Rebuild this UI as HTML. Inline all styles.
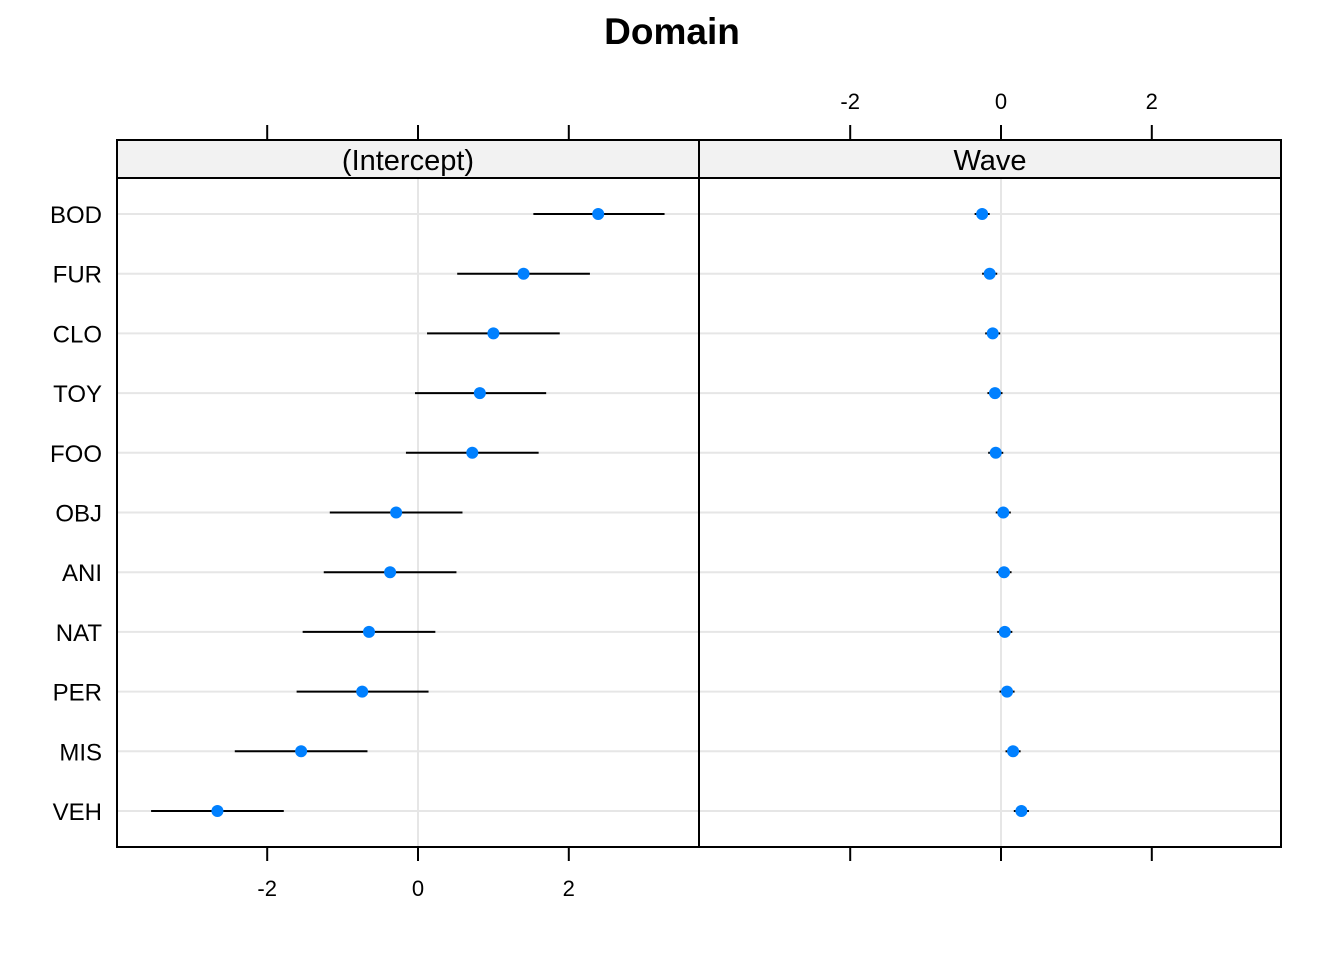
<!DOCTYPE html>
<html><head><meta charset="utf-8"><style>
body{margin:0;background:#fff}
svg{font-family:"Liberation Sans",Arial,sans-serif}
</style></head><body>
<svg id="c" width="1344" height="960" xmlns="http://www.w3.org/2000/svg">
<text x="672" y="44" text-anchor="middle" font-size="37" font-weight="bold">Domain</text>
</svg>
<script>
const categories=["BOD","FUR","CLO","TOY","FOO","OBJ","ANI","NAT","PER","MIS","VEH"];
const interceptEst=[2.39,1.40,1.00,0.82,0.72,-0.29,-0.37,-0.65,-0.74,-1.55,-2.66];
const interceptLo=[1.53,0.52,0.12,-0.04,-0.16,-1.17,-1.25,-1.53,-1.61,-2.43,-3.54];
const interceptHi=[3.27,2.28,1.88,1.70,1.60,0.59,0.51,0.23,0.14,-0.67,-1.78];
const waveEst=[-0.25,-0.15,-0.11,-0.08,-0.07,0.03,0.04,0.05,0.08,0.16,0.27];
const waveLo=[-0.35,-0.25,-0.21,-0.18,-0.17,-0.07,-0.06,-0.05,-0.02,0.06,0.17];
const waveHi=[-0.15,-0.05,-0.01,0.02,0.03,0.13,0.14,0.15,0.18,0.26,0.37];
const tickVals=[-2,0,2];
const tickLabels=["-2","0","2"];
const panelNames=["(Intercept)","Wave"];

const svg=document.getElementById('c');
const NS="http://www.w3.org/2000/svg";
function mk(tag,attrs,name,parent){const e=document.createElementNS(NS,tag);for(const k in attrs)e.setAttribute(k,attrs[k]);


(parent||svg).appendChild(e);return e;}
const plotTop=178,plotBottom=847;
const yScale=i=>214+i*(811-214)/(categories.length-1);
const panels=[{x0:117,x1:699,zero:418,est:interceptEst,lo:interceptLo,hi:interceptHi,axis:'bottom'},
{x0:699,x1:1281,zero:1001,est:waveEst,lo:waveLo,hi:waveHi,axis:'top'}];
const unit=75.4;
panels.forEach((p,pi)=>{
 const xs=v=>p.zero+v*unit;
 const g=mk('g',{},'panel-'+(pi===0?'intercept':'wave'));
 mk('line',{x1:xs(0),x2:xs(0),y1:plotTop,y2:plotBottom,stroke:'#e6e6e6','stroke-width':2},'grid-x-zero',g);
 categories.forEach((c,i)=>{mk('line',{x1:p.x0,x2:p.x1,y1:yScale(i),y2:yScale(i),stroke:'#e6e6e6','stroke-width':2},'grid-y',g);});
 mk('rect',{x:p.x0,y:140,width:p.x1-p.x0,height:38,fill:'#f2f2f2',stroke:'#000','stroke-width':2},'strip',g);
 const st=mk('text',{x:(p.x0+p.x1)/2,y:170,'text-anchor':'middle','font-size':29},'strip-label',g);st.textContent=panelNames[pi];
 mk('rect',{x:p.x0,y:plotTop,width:p.x1-p.x0,height:plotBottom-plotTop,fill:'none',stroke:'#000','stroke-width':2},'panel-border',g);
 categories.forEach((c,i)=>{
  mk('line',{x1:xs(p.lo[i]),x2:xs(p.hi[i]),y1:yScale(i),y2:yScale(i),stroke:'#000','stroke-width':2},'ci-line',g);
  mk('circle',{cx:xs(p.est[i]),cy:yScale(i),r:6,fill:'#0080ff'},'point',g);
 });
 tickVals.forEach((v,k)=>{
  mk('line',{x1:xs(v),x2:xs(v),y1:plotBottom,y2:plotBottom+14,stroke:'#000','stroke-width':2},'tick',g);
  mk('line',{x1:xs(v),x2:xs(v),y1:125,y2:140,stroke:'#000','stroke-width':2},'tick',g);
  if(p.axis==='bottom'){
   const t=mk('text',{x:xs(v),y:896,'text-anchor':'middle','font-size':22},'x-tick-label',g);t.textContent=tickLabels[k];
  } else {
   const t=mk('text',{x:xs(v),y:109,'text-anchor':'middle','font-size':22},'x-tick-label-top',g);t.textContent=tickLabels[k];
  }
 });
});
categories.forEach((c,i)=>{const t=mk('text',{x:102,y:yScale(i)+9,'text-anchor':'end','font-size':24},'y-label');t.textContent=c;});
</script>
</body></html>
